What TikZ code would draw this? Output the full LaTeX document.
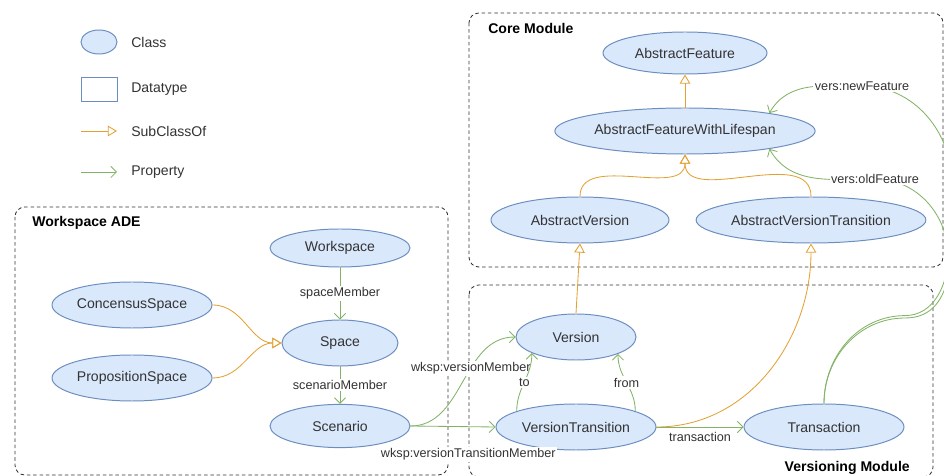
\documentclass[tikz,border=0pt]{standalone}
\usepackage{fontspec}
\setmainfont{Liberation Sans}
\usepackage{tikz}
\usetikzlibrary{arrows.meta, positioning, calc, shapes.geometric}
\usepackage{xcolor}
\definecolor{clsfill}{HTML}{DAE8FC}
\definecolor{clsline}{HTML}{6C8EBF}
\definecolor{subcol}{HTML}{E2A133}
\definecolor{propcol}{HTML}{82B366}
\definecolor{txt}{HTML}{333333}

\begin{document}
\begin{tikzpicture}[
  cls/.style    = {ellipse, draw=clsline, fill=clsfill, line width=0.7pt, inner sep=1pt,
                   minimum width=#1, minimum height=1.15cm, text=txt,
                   font=\fontsize{10}{12}\selectfont},
  cls/.default  = 3cm,
  dtype/.style  = {draw=clsline, fill=white, line width=0.7pt,
                   minimum width=0.9cm, minimum height=0.6cm},
  lgtxt/.style  = {anchor=west, inner sep=0pt, text=txt, font=\fontsize{10}{12}\selectfont},
  title/.style  = {inner sep=0pt, text=black, font=\fontsize{10}{12}\selectfont\bfseries},
  lbl/.style    = {fill=white, inner sep=1pt, text=txt, font=\fontsize{9}{11}\selectfont},
  module/.style = {draw=txt, line width=0.6pt, dash pattern=on 2.5pt off 2pt,
                   rounded corners=7pt},
  subarr/.style = {-{Triangle[open, length=6.5pt, width=7.5pt]}, draw=subcol, line width=0.6pt},
  proparr/.style= {-{Straight Barb[length=4pt, width=8pt]}, draw=propcol, line width=0.6pt},
]
\useasboundingbox (0,0) rectangle (23.6,-11.9);

% ── Legend ───────────────────────────────────────────────────────────────────
\node[cls=0.9cm, minimum height=0.6cm] (lgcls) at (2.475,-1.05) {};
\node[lgtxt] (lgclst) at (3.275,-1.05) {Class};
\node[dtype] (lgdt) at (2.475,-2.225) {};
\node[lgtxt] (lgdtt) at (3.275,-2.225) {Datatype};
\coordinate (lgsa) at (2.025,-3.275);
\coordinate (lgsb) at (2.925,-3.275);
\draw[subarr] (lgsa) -- (lgsb);
\node[lgtxt] (lgsubt) at (3.275,-3.275) {SubClassOf};
\coordinate (lgpa) at (2.025,-4.3);
\coordinate (lgpb) at (2.925,-4.3);
\draw[proparr] (lgpa) -- (lgpb);
\node[lgtxt] (lgpropt) at (3.275,-4.3) {Property};

% ── Module frames ────────────────────────────────────────────────────────────
\draw[module] (11.725,-0.325) rectangle (23.575,-6.675);
\node[title, anchor=west] (coret) at (12.2,-0.7) {Core Module};
\draw[module] (0.375,-5.175) rectangle (11.2,-11.875);
\node[title, anchor=west] (wst) at (0.8,-5.575) {Workspace ADE};
\draw[module] (11.725,-7.125) rectangle (23.325,-11.925);
\node[title, anchor=east] (vmt) at (22.75,-11.7) {Versioning Module};

% ── Core module ──────────────────────────────────────────────────────────────
\node[cls=4.1cm, minimum height=1.05cm] (af) at (17.125,-1.325) {AbstractFeature};
\node[cls=5.9cm]  (afwl) at (17.125,-3.275) {AbstractFeatureWithLifespan};
\node[cls=4.45cm] (av)   at (14.5,-5.5)     {AbstractVersion};
\node[cls=5.5cm]  (avt)  at (20.275,-5.5)   {AbstractVersionTransition};

% ── Workspace ADE ────────────────────────────────────────────────────────────
\node[cls=3.5cm, minimum height=0.95cm] (ws) at (8.5,-6.2) {Workspace};
\node[cls=4cm]   (cs)    at (3.3,-7.625)  {ConcensusSpace};
\node[cls=4cm]   (ps)    at (3.3,-9.45)   {PropositionSpace};
\node[cls=2.9cm] (space) at (8.5,-8.575)  {Space};
\node[cls=3.5cm, minimum height=1.08cm] (scen) at (8.5,-10.65) {Scenario};

% ── Versioning module ────────────────────────────────────────────────────────
\node[cls=3cm] (ver)   at (14.4,-8.425)  {Version};
\node[cls=4cm] (vt)    at (14.4,-10.675) {VersionTransition};
\node[cls=4cm] (trans) at (20.6,-10.675) {Transaction};

% ── SubClassOf ───────────────────────────────────────────────────────────────
\draw[subarr] (afwl.north) -- (af.south);
\draw[subarr] (av.north) to[out=90, in=-90] (afwl.south);
\draw[subarr] (avt.north) to[out=90, in=-90] (afwl.south);
\draw[subarr] (ver.north) -- (av.south);
\draw[subarr] (vt.east) to[out=0, in=-90] (avt.south);
\draw[subarr] (cs.east) to[out=0, in=180] (space.west);
\draw[subarr] (ps.east) to[out=0, in=180] (space.west);

% ── Properties ───────────────────────────────────────────────────────────────
\draw[proparr] (ws.south) -- node[lbl] {spaceMember} (space.north);
\draw[proparr] (space.south) -- node[lbl] {scenarioMember} (scen.north);
\draw[proparr] (scen.east) to[out=0, in=180]
    node[lbl, pos=0.6] {wksp:versionMember} (ver.west);
\draw[proparr] (scen.east) --
    node[lbl, pos=0.68, below=0.5cm] {wksp:versionTransitionMember} (vt.west);
\draw[proparr] (vt.165) to[out=90, in=-90] node[lbl] {to} (ver.200);
\draw[proparr] (vt.15) to[out=90, in=-90] node[lbl] {from} (ver.-22);
\draw[proparr] (vt.east) -- node[lbl, below=0.1cm] {transaction} (trans.west);

% vers:newFeature / vers:oldFeature leave the picture on the right
\coordinate (tb)  at (22.625,-7.95);
\coordinate (nfr) at (23.8,-4.6);
\coordinate (ofr) at (23.7,-6.4);
\coordinate (nf)  at (21.55,-2.15);
\coordinate (of)  at (21.875,-4.475);
\draw[proparr] (trans.north) to[out=90, in=180] (tb) to[out=0, in=-90] (nfr)
    to[out=90, in=0] (nf) node[lbl] {vers:newFeature}
    to[out=180, in=60] (afwl.12);
\draw[proparr] (trans.north) to[out=90, in=180] ([yshift=0.06cm]tb) to[out=0, in=-90] (ofr)
    to[out=90, in=0] (of) node[lbl] {vers:oldFeature}
    to[out=180, in=-60] (afwl.-12);
\end{tikzpicture}
\end{document}
